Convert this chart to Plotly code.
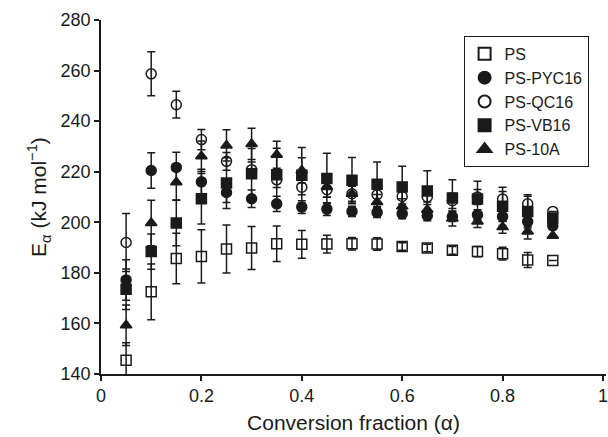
import plotly.graph_objects as go

alpha = [0.05, 0.10, 0.15, 0.20, 0.25, 0.30, 0.35, 0.40, 0.45,
         0.50, 0.55, 0.60, 0.65, 0.70, 0.75, 0.80, 0.85, 0.90]

ps = [145.4, 172.5, 185.7, 186.5, 189.4, 189.8, 191.5, 191.3, 191.4,
      191.5, 191.4, 190.4, 189.8, 188.9, 188.4, 187.6, 185.1, 184.9]
ps_err = [7, 11, 10, 10.5, 9.5, 8.5, 7, 5.5, 3.5, 2.5, 2.5, 1.5, 1.5, 1.5, 2, 2.5, 3, 0]

pyc16 = [177.2, 220.5, 221.7, 216.0, 211.8, 209.3, 207.3, 206.0, 205.2,
         204.3, 203.9, 203.4, 202.6, 202.3, 203.0, 202.3, 200.3, 198.6]
pyc16_err = [8, 7, 6, 5, 4, 3.5, 3, 2.5, 2.5, 2, 2, 2, 2, 2, 2, 2, 2, 0]

qc16 = [192.0, 258.7, 246.5, 232.7, 224.1, 220.8, 216.8, 213.9, 212.9,
        211.3, 210.9, 210.2, 210.0, 208.5, 210.0, 209.2, 207.3, 204.3]
qc16_err = [11.5, 8.7, 5.3, 4, 3.5, 3, 3, 3, 3, 3, 3, 3, 3, 3, 3, 3, 3, 0]

vb16 = [173.5, 188.4, 199.7, 209.3, 215.5, 219.2, 218.8, 218.6, 217.3,
        216.6, 215.0, 214.0, 212.4, 209.6, 209.2, 206.3, 204.3, 201.7]
vb16_err = [8, 7, 9, 10, 10, 10, 10.5, 11, 10, 9, 8.8, 8.2, 8, 7.2, 7, 7.6, 6.6, 0]

a10 = [159.3, 199.7, 215.8, 226.1, 230.4, 231.0, 226.7, 220.5, 214.0,
       211.3, 208.0, 206.3, 205.0, 201.5, 200.3, 198.1, 196.4, 194.7]
a10_err = [8, 9, 7, 6, 6.2, 6.2, 5.3, 5, 4, 4, 3, 3, 3, 3, 2.4, 2.4, 3, 0]

x_ticks = [0, 0.2, 0.4, 0.6, 0.8, 1.0]
x_ticktext = ["0", "0.2", "0.4", "0.6", "0.8", "1"]
y_ticks = [140, 160, 180, 200, 220, 240, 260, 280]

series = [
    ("PS", ps, ps_err, "square-open"),
    ("PS-PYC16", pyc16, pyc16_err, "circle"),
    ("PS-QC16", qc16, qc16_err, "circle-open"),
    ("PS-VB16", vb16, vb16_err, "square"),
    ("PS-10A", a10, a10_err, "triangle-up"),
]

FONT = "Liberation Sans, Arial, Helvetica, sans-serif"
INK = "#1a1a1a"

fig = go.Figure()
for name, vals, errs, sym in series:
    fig.add_trace(go.Scatter(
        x=alpha, y=vals, name=name, mode="markers",
        marker=dict(symbol=sym, size=10, color=INK,
                    line=dict(color=INK, width=1.5)),
        error_y=dict(type="data", array=errs, visible=True,
                     color=INK, thickness=1.5, width=4),
        cliponaxis=False,
    ))

fig.update_layout(
    width=608, height=437,
    margin=dict(l=101, r=0, t=20, b=63),
    paper_bgcolor="white", plot_bgcolor="white",
    font=dict(family=FONT, size=18, color=INK),
    showlegend=True,
    legend=dict(
        x=0.718, y=0.955, xanchor="left", yanchor="top",
        bgcolor="white", bordercolor=INK, borderwidth=1,
        font=dict(family=FONT, size=16, color=INK),
        itemsizing="constant", itemwidth=30, tracegroupgap=0,
    ),
)
fig.update_xaxes(
    range=[0, 1.006], tickvals=x_ticks, ticktext=x_ticktext,
    ticklabeloverflow="allow",
    showline=True, linecolor=INK, linewidth=1.5,
    ticks="outside", ticklen=5, tickcolor=INK, tickwidth=1.5,
    showgrid=False, zeroline=False,
    tickfont=dict(size=18),
    title=dict(text="Conversion fraction (α)", font=dict(size=21), standoff=10),
)
fig.update_yaxes(
    range=[140, 280], tickvals=y_ticks,
    showline=True, linecolor=INK, linewidth=1.5,
    ticks="outside", ticklen=5, tickcolor=INK, tickwidth=1.5,
    showgrid=False, zeroline=False,
    tickfont=dict(size=18),
    title=dict(text="E<sub>α</sub> (kJ mol<sup>−1</sup>)", font=dict(size=21), standoff=8),
)

fig.write_html("out.html")
